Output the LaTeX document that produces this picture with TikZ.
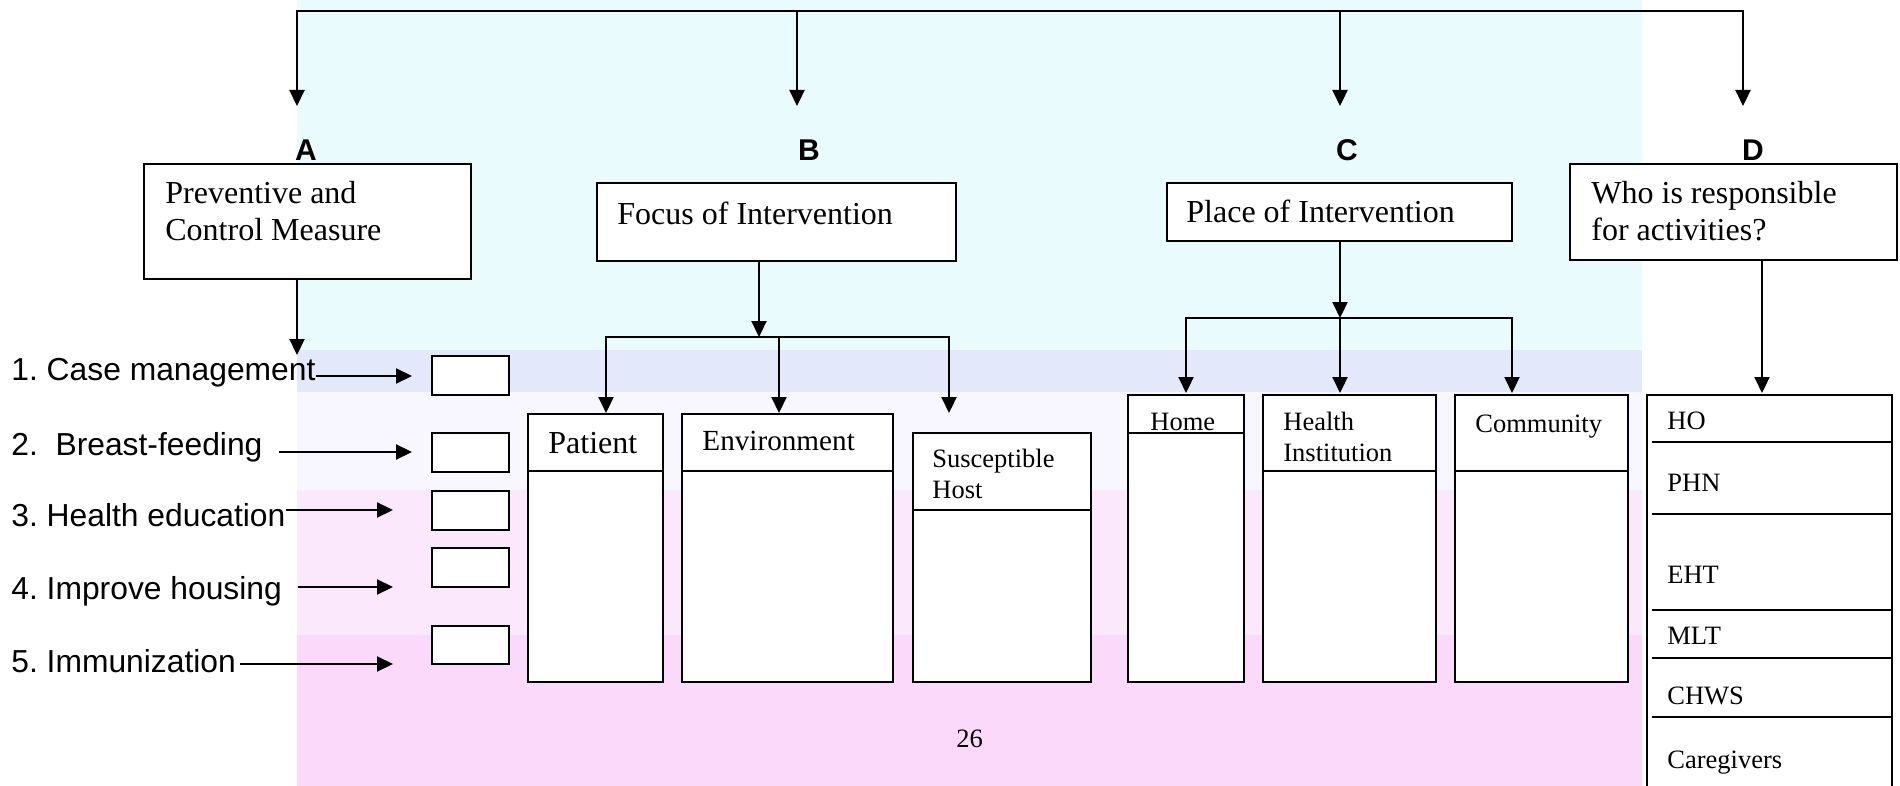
\documentclass[tikz,border=0pt]{standalone}
\usepackage{fontspec}
\setmainfont{Liberation Serif}
\newfontfamily\arialf{Liberation Sans}
\usetikzlibrary{arrows.meta,fit}
\definecolor{bgcyan}{HTML}{E9FBFD}
\definecolor{bglav}{HTML}{E4E8FB}
\definecolor{bgpale}{HTML}{F8F7FF}
\definecolor{bgpinka}{HTML}{FCE8FC}
\definecolor{bgpinkb}{HTML}{FBD9FB}
\begin{document}\frenchspacing
\begin{tikzpicture}[x=0.5pt,y=-0.5pt,
  box/.style={draw, fill=white, line width=1pt, inner sep=0pt},
  ln/.style={line width=1pt},
  arr/.style={line width=1.1pt, -{Triangle[length=8pt,width=7.5pt]}},
  arrtwo/.style={line width=1.1pt, {Triangle[length=8pt,width=7.5pt]}-{Triangle[length=8pt,width=7.5pt]}},
  big/.style={font=\fontsize{16}{18.5}\selectfont, inner sep=0pt, anchor=base west, align=left},
  small/.style={font=\fontsize{13.25}{15.3}\selectfont, inner sep=0pt, anchor=base west, align=left},
  lst/.style={font=\arialf\fontsize{15.9}{18}\selectfont, inner sep=0pt, anchor=base west},
  lbl/.style={font=\arialf\bfseries\fontsize{15}{17}\selectfont, inner sep=0pt}]
\useasboundingbox (0,0) rectangle (1900,786);
% background bands
\fill[bgcyan] (297,0) rectangle (1642,350);
\fill[bglav] (297,350) rectangle (1642,392);
\fill[bgpale] (297,392) rectangle (1642,490);
\fill[bgpinka] (297,490) rectangle (1642,635);
\fill[bgpinkb] (297,635) rectangle (1642,786);

% top distribution line
\coordinate (top1) at (297,11);
\coordinate (top4) at (1743,11);
\coordinate (tipTA) at (297,106);
\coordinate (tipTB) at (797,106);
\coordinate (tipTC) at (1340,106);
\coordinate (tipTD) at (1743,106);
\draw[arrtwo] (tipTA) -- (top1) -- (top4) -- (tipTD);
\draw[arr] (tipTB |- top1) -- (tipTB);
\draw[arr] (tipTC |- top1) -- (tipTC);

\node[lbl] (labA) at (306,150) {A};
\node[lbl] (labB) at (809,150) {B};
\node[lbl] (labC) at (1347,150) {C};
\node[lbl] (labD) at (1753,150) {D};

% header boxes (multi-line nodes are placed by their last baseline)
\node[box, fit={(144,164)(471,279)}] (boxA) {};
\node[big] (txtA) at (165,241) {Preventive and\\Control Measure};
\node[box, fit={(597,183)(956,261)}] (boxB) {};
\node[big] (txtB) at (617,225) {Focus of Intervention};
\node[box, fit={(1167,183)(1512,241)}] (boxC) {};
\node[big] (txtC) at (1186,223) {Place of Intervention};
\node[box, fit={(1570,164)(1897,260)}] (boxD) {};
\node[big] (txtD) at (1591,241) {Who is responsible\\for activities?};

% column A
\coordinate (tipA) at (297,355);
\draw[arr] (boxA.south -| tipA) -- (tipA);
\node[lst] (t1) at (11,380) {1. Case management};
\node[lst] (t2) at (11,455) {2.~~Breast-feeding};
\node[lst] (t3) at (11,526) {3. Health education};
\node[lst] (t4) at (11,599) {4. Improve housing};
\node[lst] (t5) at (11,672) {5. Immunization};
\node[box, fit={(432,356)(509,395)}] (m1) {};
\node[box, fit={(432,433)(509,472)}] (m2) {};
\node[box, fit={(432,491)(509,530)}] (m3) {};
\node[box, fit={(432,548)(509,587)}] (m4) {};
\node[box, fit={(432,626)(509,664)}] (m5) {};
\coordinate (a1) at (412,376);
\coordinate (a2) at (412,452);
\coordinate (a3) at (393,510);
\coordinate (a4) at (393,587);
\coordinate (a5) at (393,664);
\draw[arr] (t1.east |- a1) -- (a1);
\draw[arr] ([xshift=8pt]t2.east |- a2) -- (a2);
\draw[arr] (t3.east |- a3) -- (a3);
\draw[arr] ([xshift=8pt]t4.east |- a4) -- (a4);
\draw[arr] ([xshift=2pt]t5.east |- a5) -- (a5);

% column B
\coordinate (bB) at (759,337);
\draw[arr] (boxB.south -| bB) -- (bB);
\coordinate (bP) at (606,413);
\coordinate (bE) at (779,413);
\coordinate (bS) at (949,413);
\draw[arrtwo] (bP) -- (bP |- bB) -- (bS |- bB) -- (bS);
\draw[arr] (bE |- bB) -- (bE);
\node[box, fit={(528,414)(663,682)}] (pat) {};
\draw[ln] (pat.west |- 0,471) -- (pat.east |- 0,471);
\node[big] (txtPat) at (548,453) {Patient};
\node[box, fit={(682,414)(893,682)}] (env) {};
\draw[ln] (env.west |- 0,471) -- (env.east |- 0,471);
\node[big, font=\fontsize{14.6}{17}\selectfont] (txtEnv) at (702,450) {Environment};
\node[box, fit={(913,433)(1091,682)}] (sus) {};
\draw[ln] (sus.west |- 0,510) -- (sus.east |- 0,510);
\node[small] (txtSus) at (932,498) {Susceptible\\Host};

% column C
\coordinate (bC) at (1340,318);
\draw[arr] (boxC.south -| bC) -- (bC);
\coordinate (cH) at (1186,393);
\coordinate (cI) at (1340,393);
\coordinate (cC) at (1512,393);
\draw[arrtwo] (cH) -- (cH |- bC) -- (cC |- bC) -- (cC);
\draw[arr] (bC) -- (cI);
\node[box, fit={(1128,395)(1244,682)}] (home) {};
\draw[ln] (home.west |- 0,433) -- (home.east |- 0,433);
\node[small] (txtHome) at (1150,430) {Home};
\node[box, fit={(1263,395)(1436,682)}] (hinst) {};
\draw[ln] (hinst.west |- 0,471) -- (hinst.east |- 0,471);
\node[small] (txtHI) at (1283,461) {Health\\Institution};
\node[box, fit={(1455,395)(1628,682)}] (comm) {};
\draw[ln] (comm.west |- 0,471) -- (comm.east |- 0,471);
\node[small] (txtComm) at (1475,432) {Community};

% column D
\coordinate (dT) at (1762,393);
\draw[arr] (boxD.south -| dT) -- (dT);
\coordinate (dl1) at (1647,792);
\coordinate (dl2) at (1647,395);
\coordinate (dl3) at (1892,395);
\coordinate (dl4) at (1892,792);
\draw[ln] (dl1) -- (dl2) -- (dl3) -- (dl4);
\foreach \yy in {442,514,610,658,717} \draw[ln] (1652,\yy) -- (1892,\yy);
\node[small] (rHO) at (1667,429) {HO};
\node[small] (rPHN) at (1667,491) {PHN};
\node[small] (rEHT) at (1667,583) {EHT};
\node[small] (rMLT) at (1667,644) {MLT};
\node[small] (rCHWS) at (1667,704) {CHWS};
\node[small] (rCare) at (1667,768) {Caregivers};

\node[small] (pageno) at (956,747) {26};
\end{tikzpicture}
\end{document}
